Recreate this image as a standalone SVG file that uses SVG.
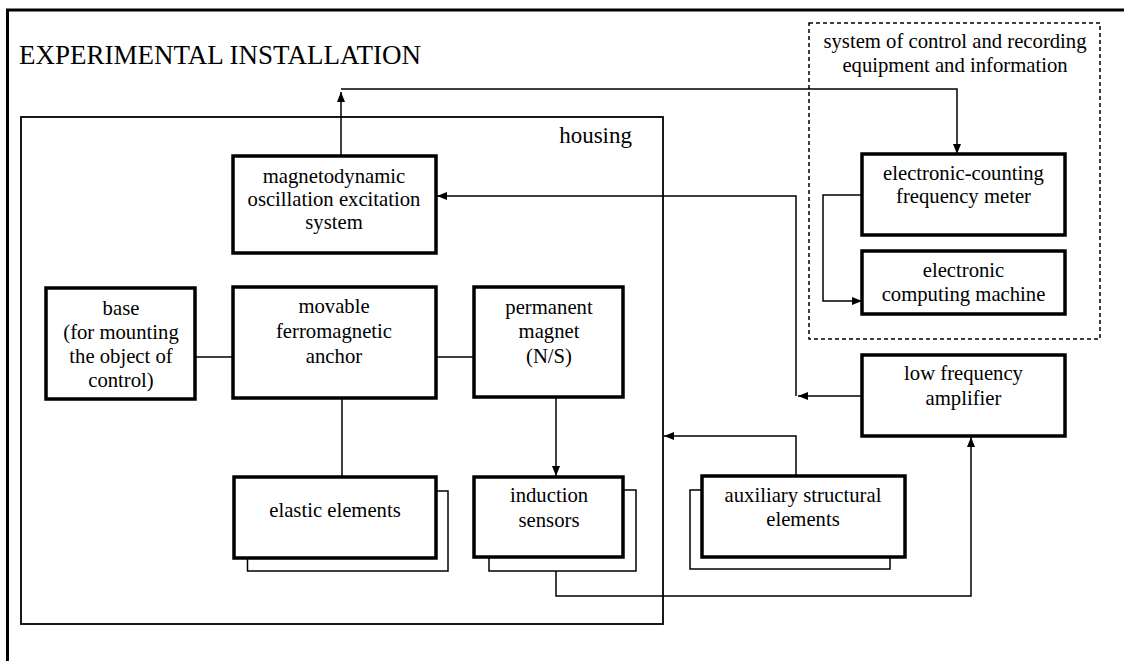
<svg xmlns="http://www.w3.org/2000/svg" width="1124" height="661" viewBox="0 0 1124 661">
<defs>
<style>
.box{fill:#fff;stroke:#000;stroke-width:3.5}
.sh{fill:#fff;stroke:#000;stroke-width:1.5}
.ln{fill:none;stroke:#000;stroke-width:1.5}
text{font-family:"Liberation Serif","Times New Roman",serif;font-size:20.7px;fill:#000;text-anchor:middle}
</style>
<marker id="ar" markerUnits="userSpaceOnUse" markerWidth="10" markerHeight="8" refX="10" refY="4" orient="auto">
<path d="M0,0 L10,4 L0,8 z" fill="#000"/>
</marker>
</defs>
<rect width="1124" height="661" fill="#fff"/>
<g id="frame">
<path d="M7.5,661 V10 H1124" fill="none" stroke="#000" stroke-width="3"/>
<text x="19" y="64" style="font-size:27px;text-anchor:start">EXPERIMENTAL INSTALLATION</text>
</g>
<g id="housing">
<rect x="21" y="117" width="642" height="507" fill="none" stroke="#000" stroke-width="1.8"/>
<text x="632" y="143" style="font-size:23px;text-anchor:end">housing</text>
</g>
<g id="control-system">
<rect x="809" y="23" width="291" height="316" fill="none" stroke="#000" stroke-width="1.5" stroke-dasharray="4,3"/>
<text x="955" y="48">system of control and recording</text>
<text x="955" y="72">equipment and information</text>
</g>
<g id="connectors">
<path class="ln" d="M341,156 V92" marker-end="url(#ar)"/>
<path class="ln" d="M341,89 H957 V154" marker-end="url(#ar)"/>
<path class="ln" d="M862,396 H798" marker-end="url(#ar)"/>
<path class="ln" d="M796,396 V196 H437" marker-end="url(#ar)"/>
<path class="ln" d="M862,195 H823 V301 H862" marker-end="url(#ar)"/>
<path class="ln" d="M796,476 V436 H664" marker-end="url(#ar)"/>
<path class="ln" d="M556,571 V596 H971 V437" marker-end="url(#ar)"/>
<path class="ln" d="M556,397 V476" marker-end="url(#ar)"/>
<path class="ln" d="M195,357 H233 M436,357 H474 M342,398 V477"/>
</g>
<g id="magnetodynamic">
<rect class="box" x="233" y="156" width="203" height="97"/>
<text x="334" y="183">magnetodynamic</text>
<text x="334" y="206">oscillation excitation</text>
<text x="334" y="229">system</text>
</g>
<g id="base">
<rect class="box" x="46" y="288" width="149" height="111"/>
<text x="121" y="315">base</text>
<text x="121" y="339">(for mounting</text>
<text x="121" y="363">the object of</text>
<text x="121" y="387">control)</text>
</g>
<g id="anchor">
<rect class="box" x="233" y="287" width="203" height="111"/>
<text x="334" y="313">movable</text>
<text x="334" y="338">ferromagnetic</text>
<text x="334" y="363">anchor</text>
</g>
<g id="magnet">
<rect class="box" x="474" y="287" width="149" height="110"/>
<text x="549" y="314">permanent</text>
<text x="549" y="338">magnet</text>
<text x="549" y="363">(N/S)</text>
</g>
<g id="elastic">
<rect class="sh" x="247.5" y="491" width="200.5" height="80"/>
<rect class="box" x="234" y="477" width="202" height="81"/>
<text x="335" y="517">elastic elements</text>
</g>
<g id="sensors">
<rect class="sh" x="489" y="490" width="147" height="81"/>
<rect class="box" x="474" y="477" width="149" height="80"/>
<text x="549" y="502">induction</text>
<text x="549" y="527">sensors</text>
</g>
<g id="auxiliary">
<rect class="sh" x="690" y="490" width="200" height="79"/>
<rect class="box" x="702" y="476" width="203" height="81"/>
<text x="803" y="502">auxiliary structural</text>
<text x="803" y="526">elements</text>
</g>
<g id="frequency-meter">
<rect class="box" x="862" y="154" width="203" height="81"/>
<text x="963.5" y="180">electronic-counting</text>
<text x="963.5" y="203">frequency meter</text>
</g>
<g id="computer">
<rect class="box" x="862" y="251" width="203" height="63"/>
<text x="963.5" y="277">electronic</text>
<text x="963.5" y="301">computing machine</text>
</g>
<g id="amplifier">
<rect class="box" x="862" y="355" width="203" height="81"/>
<text x="963.5" y="380">low frequency</text>
<text x="963.5" y="405">amplifier</text>
</g>
</svg>
